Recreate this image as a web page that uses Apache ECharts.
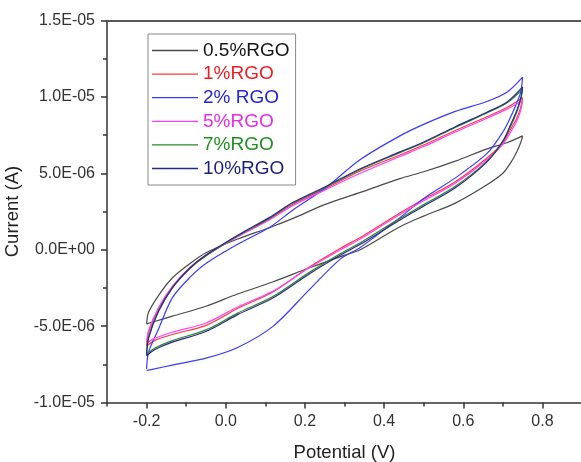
<!DOCTYPE html>
<html>
<head>
<meta charset="utf-8">
<script src="https://cdn.jsdelivr.net/npm/echarts@6/dist/echarts.min.js"></script>
<style>
html,body{margin:0;padding:0;background:#fff;}
#chart{width:581px;height:462px;}
</style>
</head>
<body>
<div id="chart"></div>
<script>
// Potential (V): forward sweep then reverse sweep
var potForward = [-0.2, -0.195, -0.17, -0.135, -0.09, -0.05, 0.03, 0.11, 0.17, 0.25, 0.34, 0.44, 0.5, 0.58, 0.66, 0.71, 0.75];
var potReverse = [0.745, 0.735, 0.72, 0.70, 0.66, 0.58, 0.5, 0.44, 0.34, 0.29, 0.21, 0.12, 0.03, -0.05, -0.135, -0.18, -0.2];

// Current in microamps (1E-06 A), forward branch then reverse branch
var rgo05Fwd = [-4.85, -4.1, -3.0, -1.85, -0.9, -0.2, 0.7, 1.44, 2.05, 2.95, 3.75, 4.65, 5.1, 5.8, 6.6, 7.0, 7.45];
var rgo05Rev = [7.0, 6.4, 5.7, 5.0, 4.25, 3.05, 2.2, 1.5, 0.0, -0.45, -1.2, -2.1, -2.9, -3.7, -4.35, -4.7, -4.85];

var rgo1Fwd = [-6.3, -5.4, -3.85, -2.45, -1.2, -0.4, 0.88, 2.0, 2.98, 3.98, 5.15, 6.2, 6.85, 7.8, 8.7, 9.3, 9.95];
var rgo1Rev = [9.3, 8.6, 7.9, 7.0, 6.0, 4.45, 3.3, 2.4, 0.8, 0.1, -1.15, -2.75, -3.85, -4.95, -5.55, -5.95, -6.3];

var rgo2Fwd = [-7.8, -6.7, -5.2, -3.15, -1.8, -0.9, 0.35, 1.45, 2.6, 4.0, 5.9, 7.45, 8.2, 9.05, 9.7, 10.3, 11.3];
var rgo2Rev = [10.3, 9.6, 8.7, 7.7, 6.3, 4.7, 3.35, 2.1, 0.15, -0.6, -2.65, -5.0, -6.4, -7.1, -7.55, -7.8, -7.9];

var rgo5Fwd = [-6.1, -5.3, -3.8, -2.4, -1.15, -0.35, 0.85, 1.95, 2.9, 3.9, 5.0, 6.1, 6.75, 7.7, 8.6, 9.2, 9.75];
var rgo5Rev = [9.1, 8.4, 7.7, 6.9, 5.9, 4.35, 3.2, 2.3, 0.7, 0.0, -1.2, -2.7, -3.75, -4.8, -5.4, -5.8, -6.1];

var rgo7Fwd = [-6.85, -5.7, -4.0, -2.5, -1.22, -0.4, 0.9, 2.05, 3.05, 4.05, 5.25, 6.35, 7.0, 8.0, 8.95, 9.6, 10.5];
var rgo7Rev = [9.8, 9.0, 8.1, 7.1, 5.8, 4.15, 2.95, 2.05, 0.45, -0.25, -1.5, -3.05, -4.15, -5.25, -5.95, -6.45, -6.85];

var rgo10Fwd = [-6.95, -5.8, -4.05, -2.5, -1.18, -0.35, 0.95, 2.1, 3.1, 4.1, 5.3, 6.4, 7.05, 8.05, 9.0, 9.65, 10.65];
var rgo10Rev = [9.9, 9.1, 8.2, 7.1, 5.75, 4.05, 2.85, 1.95, 0.35, -0.35, -1.6, -3.15, -4.25, -5.35, -6.05, -6.55, -6.95];

var seriesNames = ['0.5%RGO', '1%RGO', '2% RGO', '5%RGO', '7%RGO', '10%RGO'];
var xMajorTicks = [-0.2, 0.0, 0.2, 0.4, 0.6, 0.8];
var xMinorTicks = [-0.3, -0.1, 0.1, 0.3, 0.5, 0.7];

var lineColors = ['#4a4a4a', '#ff3a3a', '#3a3aff', '#ff40ff', '#2a8a2a', '#2a2a8a'];
var textColors = ['#151515', '#ec1c24', '#2323d9', '#e62ae6', '#1f8f1f', '#1d1d7d'];

var seriesCurrents = [
  [rgo05Fwd, rgo05Rev], [rgo1Fwd, rgo1Rev], [rgo2Fwd, rgo2Rev],
  [rgo5Fwd, rgo5Rev], [rgo7Fwd, rgo7Rev], [rgo10Fwd, rgo10Rev]
];

function loopData(fwd, rev) {
  var d = [];
  for (var i = 0; i < potForward.length; i++) d.push([potForward[i], fwd[i]]);
  for (var j = 0; j < potReverse.length; j++) d.push([potReverse[j], rev[j]]);
  return d;
}

function sciLabel(v) {
  var a = v * 1e-6;
  var s = a.toExponential(1).toUpperCase(); // e.g. 1.5E-5
  var m = s.split('E');
  var exp = parseInt(m[1], 10);
  var sign = exp < 0 ? '-' : '+';
  var e = Math.abs(exp);
  return m[0] + 'E' + sign + (e < 10 ? '0' + e : '' + e);
}

var FONT = '"Liberation Sans", Arial, sans-serif';

var chart = echarts.init(document.getElementById('chart'), null, {renderer: 'canvas'});

var series = seriesNames.map(function (n, i) {
  return {
    name: n,
    type: 'line',
    xAxisIndex: 0,
    yAxisIndex: 0,
    symbol: 'none',
    smooth: 0.3,
    lineStyle: {color: lineColors[i], width: 1.2},
    itemStyle: {color: lineColors[i]},
    data: loopData(seriesCurrents[i][0], seriesCurrents[i][1])
  };
});

var option = {
  animation: false,
  backgroundColor: '#ffffff',
  grid: {left: 107, top: 20.5, width: 475, height: 382, containLabel: false, outerBoundsMode: 'none'},
  legend: {
    orient: 'vertical',
    left: 148,
    top: 34,
    padding: [7, 6, 7, 4],
    borderColor: '#8a8a8a',
    borderWidth: 1,
    backgroundColor: '#ffffff',
    icon: 'rect',
    itemWidth: 46,
    itemHeight: 1.3,
    itemGap: 4.6,
    textStyle: {fontSize: 19, fontFamily: FONT, lineHeight: 19},
    data: seriesNames.map(function (n, i) {
      return {name: n, textStyle: {color: textColors[i]}};
    })
  },
  xAxis: [
    {
      type: 'value', position: 'bottom', min: -0.3, max: 0.9,
      name: 'Potential (V)', nameLocation: 'middle', nameGap: 41,
      nameTextStyle: {fontSize: 18.5, fontFamily: FONT, color: '#222'},
      axisLine: {show: true, onZero: false, lineStyle: {color: '#333', width: 1.5}},
      axisTick: {show: true, inside: false, length: 6, customValues: xMajorTicks, lineStyle: {color: '#333', width: 1.5}},
      axisLabel: {show: true, margin: 11, customValues: xMajorTicks, fontSize: 16, fontFamily: FONT, color: '#333',
        formatter: function (v) { return v.toFixed(1); }},
      splitLine: {show: false}
    },
    {
      type: 'value', position: 'bottom', min: -0.3, max: 0.9, gridIndex: 0,
      axisLine: {show: false, onZero: false},
      axisTick: {show: true, inside: false, length: 4, customValues: xMinorTicks, lineStyle: {color: '#333', width: 1.5}},
      axisLabel: {show: false},
      splitLine: {show: false}
    },
    {
      type: 'value', position: 'top', min: -0.3, max: 0.9, gridIndex: 0,
      axisLine: {show: true, onZero: false, lineStyle: {color: '#5a5a5a', width: 2}},
      axisTick: {show: false},
      axisLabel: {show: false},
      splitLine: {show: false}
    }
  ],
  yAxis: [
    {
      type: 'value', min: -10, max: 15, interval: 5,
      name: 'Current (A)', nameLocation: 'middle', nameGap: 73,
      nameTextStyle: {fontSize: 18.5, fontFamily: FONT, color: '#222'},
      axisLine: {show: true, onZero: false, lineStyle: {color: '#333', width: 1.5}},
      axisTick: {show: true, inside: false, length: 6, lineStyle: {color: '#333', width: 1.5}},
      minorTick: {show: true, splitNumber: 2, length: 4, lineStyle: {color: '#333', width: 1.5}},
      axisLabel: {show: true, margin: 12, fontSize: 16, fontFamily: FONT, color: '#333', formatter: sciLabel},
      splitLine: {show: false},
      minorSplitLine: {show: false}
    }
  ],
  series: series
};

chart.setOption(option);
</script>
</body>
</html>
